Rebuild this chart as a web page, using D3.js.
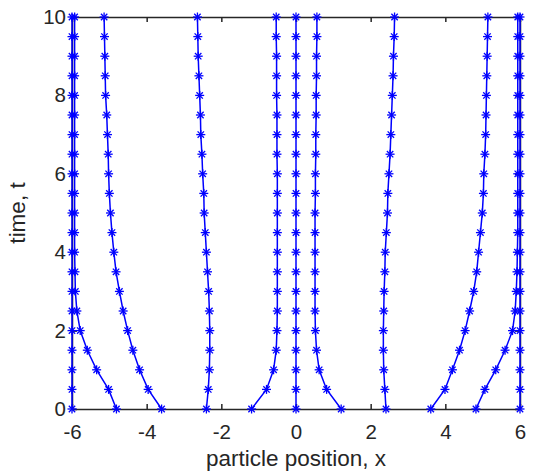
<!DOCTYPE html>
<meta charset="utf-8">
<script src="https://cdn.jsdelivr.net/npm/d3@7/dist/d3.min.js"></script>
<style>
body { margin: 0; background: #fff; }
text { font-family: "Liberation Sans", Arial, Helvetica, sans-serif; fill: #262626; }
.axis path, .axis line { stroke: #262626; stroke-width: 1.5px; }
.traj { fill: none; stroke: #0000ff; stroke-width: 1.5px; }
.mark line { stroke: #0000ff; stroke-width: 1.3px; }
</style>
<body>
<script>

// time levels (y) shared by every particle
var times = [0, 0.5, 1, 1.5, 2, 2.5, 3, 3.5, 4, 4.5, 5, 5.5, 6, 6.5, 7, 7.5, 8, 8.5, 9, 9.5, 10];

// particle positions, one array per particle
var p1  = [-6, -6, -6, -6, -6, -6, -6, -6, -6, -6, -6, -6, -6, -6, -6, -6, -6, -6, -6, -6, -6];
var p2  = [-4.81, -5.02, -5.34, -5.59, -5.78, -5.87, -5.91, -5.92, -5.93, -5.93, -5.93, -5.93, -5.93, -5.93, -5.93, -5.93, -5.93, -5.93, -5.93, -5.93, -5.93];
var p3  = [-3.60, -3.96, -4.19, -4.37, -4.51, -4.63, -4.73, -4.82, -4.88, -4.93, -4.97, -5.00, -5.02, -5.03, -5.05, -5.07, -5.10, -5.11, -5.12, -5.13, -5.14];
var p4  = [-2.40, -2.35, -2.32, -2.31, -2.31, -2.32, -2.34, -2.37, -2.40, -2.43, -2.46, -2.47, -2.50, -2.52, -2.55, -2.56, -2.58, -2.60, -2.62, -2.63, -2.64];
var p5  = [-1.19, -0.79, -0.60, -0.53, -0.51, -0.50, -0.50, -0.50, -0.50, -0.50, -0.50, -0.50, -0.50, -0.51, -0.51, -0.51, -0.52, -0.52, -0.52, -0.53, -0.53];
var p6  = [0, 0, 0, 0, 0, 0, 0, 0, 0, 0, 0, 0, 0, 0, 0, 0, 0, 0, 0, 0, 0];
var p7  = [1.21, 0.82, 0.62, 0.55, 0.52, 0.51, 0.51, 0.51, 0.51, 0.51, 0.51, 0.52, 0.52, 0.53, 0.53, 0.54, 0.54, 0.55, 0.55, 0.56, 0.56];
var p8  = [2.41, 2.38, 2.35, 2.34, 2.34, 2.35, 2.36, 2.38, 2.39, 2.42, 2.45, 2.46, 2.49, 2.52, 2.54, 2.56, 2.58, 2.60, 2.61, 2.63, 2.64];
var p9  = [3.61, 3.99, 4.19, 4.38, 4.53, 4.65, 4.76, 4.84, 4.89, 4.94, 4.99, 5.02, 5.03, 5.06, 5.08, 5.09, 5.10, 5.11, 5.12, 5.13, 5.14];
var p10 = [4.82, 5.06, 5.35, 5.60, 5.80, 5.87, 5.90, 5.92, 5.93, 5.94, 5.94, 5.94, 5.94, 5.94, 5.94, 5.94, 5.94, 5.94, 5.94, 5.94, 5.94];
var p11 = [6, 6, 6, 6, 6, 6, 6, 6, 6, 6, 6, 6, 6, 6, 6, 6, 6, 6, 6, 6, 6];

var particles = [p1, p2, p3, p4, p5, p6, p7, p8, p9, p10, p11];

var xTicks = [-6, -4, -2, 0, 2, 4, 6];
var yTicks = [0, 2, 4, 6, 8, 10];

var width = 534,
    height = 473;

var x = d3.scaleLinear().domain([-6, 6]).range([72, 520]);
var y = d3.scaleLinear().domain([0, 10]).range([409, 17]);

var svg = d3.select("body").append("svg")
    .attr("width", width)
    .attr("height", height);

// box with inward ticks
svg.append("g").attr("class", "axis")
    .attr("transform", "translate(0," + y(0) + ")")
    .call(d3.axisBottom(x).tickValues(xTicks).tickSize(-5).tickSizeOuter(0)
      .tickPadding(15).tickFormat(function(d) { return String(d); }));
svg.append("g").attr("class", "axis")
    .attr("transform", "translate(0," + y(10) + ")")
    .call(d3.axisTop(x).tickValues(xTicks).tickSize(-5).tickSizeOuter(0).tickFormat(""));
svg.append("g").attr("class", "axis")
    .attr("transform", "translate(" + x(-6) + ",0)")
    .call(d3.axisLeft(y).tickValues(yTicks).tickSize(-5).tickSizeOuter(0)
      .tickPadding(6).tickFormat(function(d) { return String(d); }));
svg.append("g").attr("class", "axis")
    .attr("transform", "translate(" + x(6) + ",0)")
    .call(d3.axisRight(y).tickValues(yTicks).tickSize(-5).tickSizeOuter(0).tickFormat(""));

svg.selectAll(".axis text")
    .style("font-size", "20.5px")
    .style("font-family", "'Liberation Sans', Arial, sans-serif")
    .attr("fill", "#262626");

// trajectories
var line = d3.line()
    .x(function(d, i) { return x(d); })
    .y(function(d, i) { return y(times[i]); });

svg.append("g").selectAll("path")
    .data(particles)
  .enter().append("path")
    .attr("class", "traj")
    .attr("d", line);

// asterisk markers
var pts = [];
particles.forEach(function(p) {
  p.forEach(function(v, i) { pts.push({x: v, t: times[i]}); });
});

var r = 4.5, rd = 3.2;
var mark = svg.append("g").selectAll("g")
    .data(pts)
  .enter().append("g")
    .attr("class", "mark")
    .attr("transform", function(d) { return "translate(" + x(d.x) + "," + y(d.t) + ")"; });

[[-r, 0, r, 0], [0, -r, 0, r], [-rd, -rd, rd, rd], [-rd, rd, rd, -rd]].forEach(function(s) {
  mark.append("line")
      .attr("x1", s[0]).attr("y1", s[1])
      .attr("x2", s[2]).attr("y2", s[3]);
});

// axis titles
svg.append("text")
    .attr("x", 296)
    .attr("y", 466)
    .attr("text-anchor", "middle")
    .style("font-size", "22.5px")
    .text("particle position, x");

svg.append("text")
    .attr("transform", "translate(25," + y(5) + ") rotate(-90)")
    .attr("text-anchor", "middle")
    .style("font-size", "22.5px")
    .text("time, t");

</script>
</body>
</html>
